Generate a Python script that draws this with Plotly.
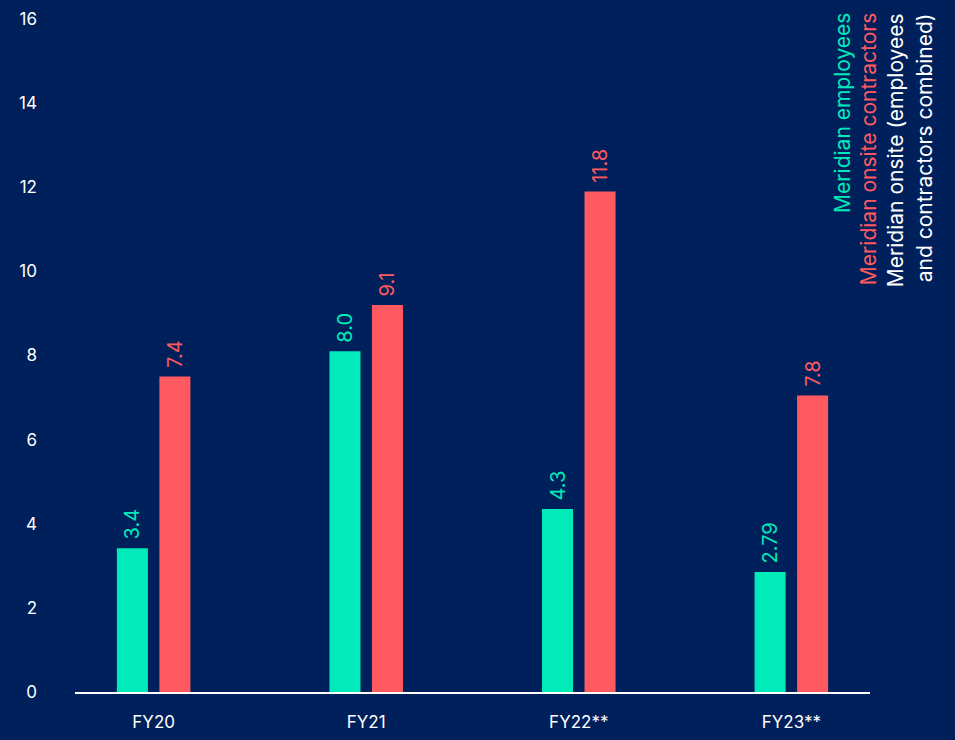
import plotly.graph_objects as go

years = ["FY20", "FY21", "FY22**", "FY23**"]
employees = [3.42, 8.1, 4.35, 2.85]
employees_text = ["3.4", "8.0", "4.3", "2.79"]
contractors = [7.5, 9.2, 11.9, 7.05]
contractors_text = ["7.4", "9.1", "11.8", "7.8"]
y_ticks = [0, 2, 4, 6, 8, 10, 12, 14, 16]

bg = "#00205B"
green = "#00EBB9"
red = "#FF5A5F"
font_family = "Inter, DejaVu Sans, sans-serif"

fig = go.Figure()
fig.add_trace(go.Bar(
    x=years, y=employees, name="Meridian employees",
    marker=dict(color=green, line=dict(width=0)),
    text=employees_text, texttemplate="\u00a0%{text}", textposition="outside",
    textangle=-90, constraintext="none",
    textfont=dict(color=green, size=20, family=font_family),
    cliponaxis=False,
))
fig.add_trace(go.Bar(
    x=years, y=contractors, name="Meridian onsite contractors",
    marker=dict(color=red, line=dict(width=0)),
    text=contractors_text, texttemplate="\u00a0%{text}", textposition="outside",
    textangle=-90, constraintext="none",
    textfont=dict(color=red, size=20, family=font_family),
    cliponaxis=False,
))

# vertical legend text on the right
legend_lines = [
    ("Meridian employees", green, 0.966),
    ("Meridian onsite contractors", red, 0.999),
    ("Meridian onsite (employees", "white", 1.033),
    ("and contractors combined)", "white", 1.069),
]
for txt, col, xpos in legend_lines:
    fig.add_annotation(
        text=txt, x=xpos, y=1.012, xref="paper", yref="paper",
        xanchor="center", yanchor="top", textangle=-90, showarrow=False,
        font=dict(color=col, size=21, family=font_family),
    )

fig.update_layout(
    width=955, height=740,
    paper_bgcolor=bg, plot_bgcolor=bg,
    margin=dict(l=75, r=85, t=19, b=48),
    barmode="group", bargap=0.6, bargroupgap=0.27,
    showlegend=False,
    font=dict(family=font_family, color="white", size=17),
)
fig.update_xaxes(
    range=[-0.37, 3.37], showline=True, linecolor="white", linewidth=2,
    showgrid=False, ticks="", ticklabelstandoff=14, automargin=False,
    tickfont=dict(size=17, color="white"),
)
fig.update_yaxes(
    range=[0, 16], tickvals=y_ticks, showgrid=False, zeroline=False,
    showline=False, ticklabelstandoff=37, automargin=False,
    tickfont=dict(size=17, color="white"),
)

fig.write_html(
    "out.html",
    config={"displayModeBar": False},
    post_script="document.body.style.margin='0';document.body.style.background='#00205B';",
)
